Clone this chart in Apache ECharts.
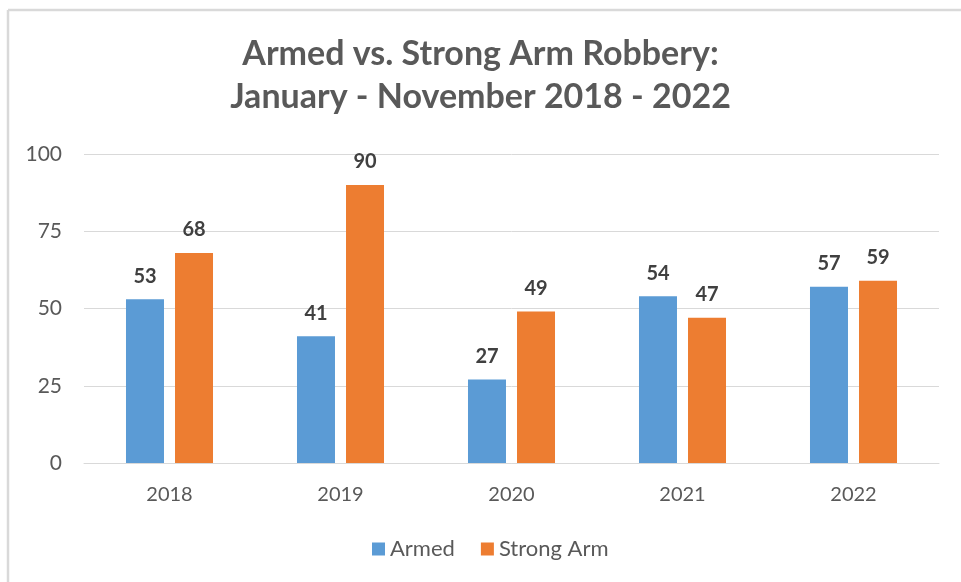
<!DOCTYPE html>
<html><head><meta charset="utf-8">
<script src="https://cdn.jsdelivr.net/npm/echarts@6/dist/echarts.min.js"></script>
<style>html,body{margin:0;padding:0;background:#fff}#c{width:961px;height:582px}</style>
</head><body><div id="c"></div>
<script>
const categories = ['2018','2019','2020','2021','2022'];
const armed = [53, 41, 27, 54, 57];
const strongArm = [68, 90, 49, 47, 59];
const yTicks = [0, 25, 50, 75, 100];

const chart = echarts.init(document.getElementById('c'));
const font = 'Lato, "Open Sans", sans-serif';
const labelStyle = {show:true, position:'top', distance:13, color:'#404040', fontWeight:'bold', fontSize:20, fontFamily:font};
chart.setOption({
  animation:false,
  graphic:[
    {type:'line', shape:{x1:8, y1:10, x2:961, y2:10}, style:{stroke:'#d9d9d9', lineWidth:2.5}},
    {type:'line', shape:{x1:8, y1:10, x2:8, y2:582}, style:{stroke:'#d9d9d9', lineWidth:2.5}}
  ],
  title:{
    text:'Armed vs. Strong Arm Robbery:\nJanuary - November 2018 - 2022',
    left:'center', top:33, padding:[0,0,0,25],
    textStyle:{fontFamily:font, fontWeight:'bold', fontSize:34, color:'#595959', lineHeight:43}
  },
  legend:{
    bottom:22, left:372, itemWidth:13, itemHeight:13, itemGap:26, padding:0,
    icon:'rect',
    textStyle:{fontFamily:font, fontSize:22, color:'#595959'},
    data:['Armed','Strong Arm']
  },
  grid:{left:84, right:22, top:154, bottom:119, containLabel:false},
  xAxis:{
    type:'category', data:categories,
    axisLine:{lineStyle:{color:'#d9d9d9'}}, axisTick:{show:false},
    axisLabel:{color:'#595959', fontSize:20, fontFamily:font, margin:22}
  },
  yAxis:{
    type:'value', min:yTicks[0], max:yTicks[yTicks.length-1], interval:25,
    axisLine:{show:false}, axisTick:{show:false},
    splitLine:{lineStyle:{color:'#d9d9d9'}},
    axisLabel:{color:'#595959', fontSize:21, fontFamily:font, margin:22}
  },
  series:[
    {name:'Armed', type:'bar', data:armed, barWidth:38, barGap:'29%', itemStyle:{color:'#5B9BD5'}, label:labelStyle},
    {name:'Strong Arm', type:'bar', data:strongArm, barWidth:38, itemStyle:{color:'#ED7D31'}, label:labelStyle}
  ]
});
</script></body></html>
